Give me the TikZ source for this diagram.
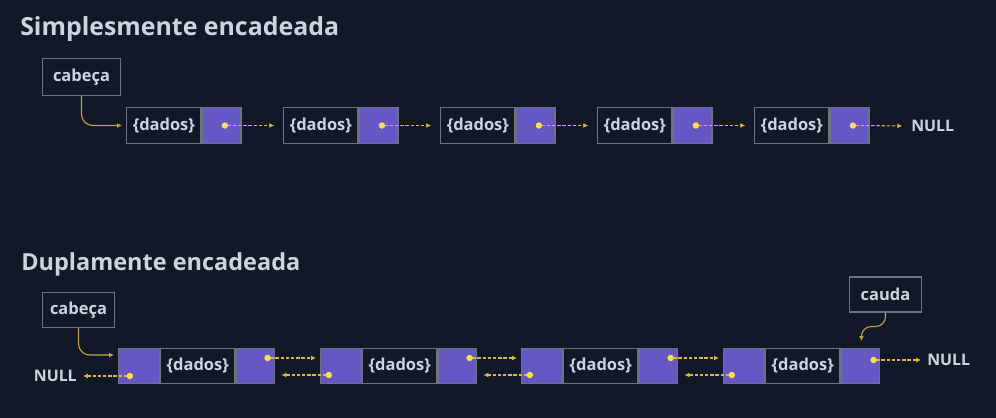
\documentclass[tikz,border=0pt]{standalone}
\usepackage{fontspec}
\setmainfont{Open Sans}
\usepackage{tikz}
\usetikzlibrary{arrows.meta,positioning,calc}
\definecolor{bg}{HTML}{111827}
\definecolor{ink}{HTML}{CBD5E1}
\definecolor{frame}{HTML}{6B7280}
\definecolor{slot}{HTML}{6658C4}
\definecolor{wire}{HTML}{E3B341}
\definecolor{dot}{HTML}{FDE047}
\definecolor{hook}{HTML}{C9A13B}

\begin{document}
\begin{tikzpicture}[
  x=0.025cm,y=-0.025cm,
  font=\bfseries,text=ink,
  title/.style={font=\fontsize{17.7}{21}\selectfont\bfseries,anchor=base west,inner sep=0pt},
  cell/.style={draw=frame,line width=0.9pt,fill=bg,minimum width=1.86cm,
    minimum height=0.9cm,inner sep=0pt,font=\fontsize{11.7}{13}\selectfont\bfseries},
  slotbox/.style={cell,fill=slot,minimum width=0.97cm},
  tag/.style={draw=frame,line width=0.9pt,fill=bg,minimum width=1.8cm,
    minimum height=0.87cm,inner sep=0pt,font=\fontsize{11.7}{13}\selectfont\bfseries},
  nulltxt/.style={inner sep=0pt,font=\fontsize{11.3}{13}\selectfont\bfseries},
  % dot at the start, small head at the end
  link/.style={draw=wire,line width=0.75pt,dash pattern=on 2.4pt off 1.3pt,
    {Circle[length=4.5pt,color=dot]}-{Latex[length=3.5pt,width=3.5pt]}},
  headlink/.style={draw=hook,line width=0.8pt,rounded corners=8pt,
    -{Latex[length=3.5pt,width=3.5pt]}}
]
  \fill[bg] (0,0) rectangle (996,418);
  \useasboundingbox (0,0) rectangle (996,418);

  % ---- singly linked
  \node[title] (t1) at (20,36) {Simplesmente encadeada};
  \node[tag,minimum width=1.95cm,minimum height=0.92cm] (head1) at (81.5,77) {cabeça};

  \foreach \i/\x in {1/126,2/283,3/440,4/597,5/754} {
    \node[cell,anchor=west] (sdata\i) at (\x,125.5) {\{dados\}};
    \node[slotbox,anchor=west] (snext\i) at (sdata\i.east) {};
  }
  \node[nulltxt,anchor=west] (snull) at (911,126) {NULL};

  \foreach \i/\j in {1/2,2/3,3/4,4/5}
    \draw[link,shorten >=0.22cm] (snext\i.center) -- (sdata\j.west);
  \draw[link,shorten >=0.22cm] (snext5.center) -- (snull.west);
  \draw[headlink] (head1.south) |- ($(sdata1.west)+(-4,0)$);

  % ---- doubly linked
  \node[title,font=\fontsize{16.7}{20}\selectfont\bfseries] (t2) at (21,271) {Duplamente encadeada};
  \node[tag] (head2) at (78.5,310) {cabeça};
  \node[tag] (tail2) at (885.5,294.5) {cauda};

  \foreach \i/\x in {1/118,2/320,3/521,4/723} {
    \node[slotbox,minimum width=1.02cm,minimum height=0.87cm,anchor=west] (dprev\i) at (\x,366) {};
    \node[cell,minimum width=1.85cm,minimum height=0.87cm,anchor=west] (ddata\i) at (dprev\i.east) {\{dados\}};
    \node[slotbox,minimum height=0.87cm,anchor=west] (dnext\i) at (ddata\i.east) {};
  }
  \node[nulltxt,anchor=east] (dnullL) at (77,376) {NULL};
  \node[nulltxt,anchor=west] (dnullR) at (927,360) {NULL};

  \foreach \i/\j in {1/2,2/3,3/4} {
    \draw[link] ($(dnext\i.east)+(-11,-8)$) -- ($(dprev\j.west)+(-4,-8)$);
    \draw[link] ($(dprev\j.west)+(12,9)$) -- ($(dnext\i.east)+(6,9)$);
  }
  \draw[link,shorten >=0.15cm] ($(dprev1.west)+(15,10)$) -- (dnullL.east);
  \draw[link,shorten >=0.15cm] ($(dnext4.east)+(-10,-6)$) -- (dnullR.west);

  \draw[headlink] (head2.south) |- ($(dprev1.west)+(-4,-11)$);
  \draw[headlink,rounded corners=7pt] (tail2.south) -- ++(0,14) -| ($(dnext4.north)+(1,-7)$);
\end{tikzpicture}
\end{document}
